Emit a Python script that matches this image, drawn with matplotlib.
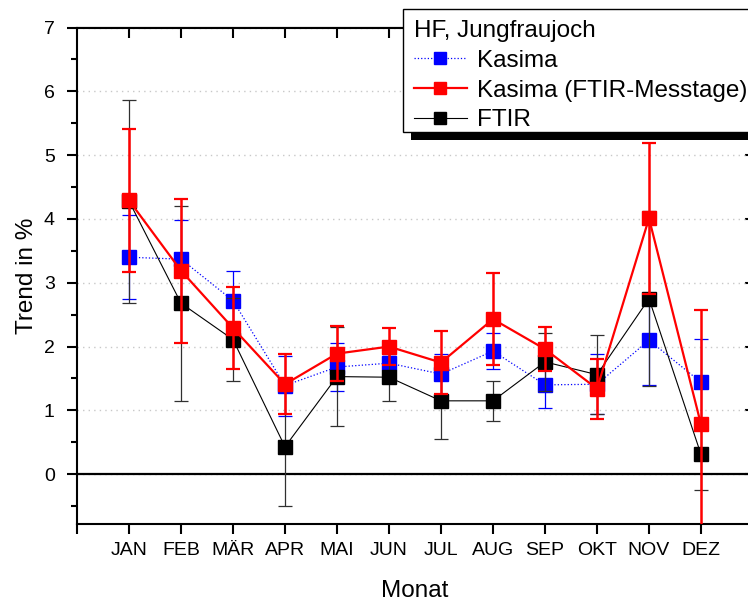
import matplotlib
matplotlib.use("Agg")
import matplotlib.pyplot as plt
from matplotlib.ticker import MultipleLocator
from matplotlib.patches import Rectangle
from matplotlib.lines import Line2D

plt.rcParams['font.family'] = ['Liberation Sans', 'DejaVu Sans']

months = ['JAN', 'FEB', 'MÄR', 'APR', 'MAI', 'JUN', 'JUL', 'AUG', 'SEP', 'OKT', 'NOV', 'DEZ']
kasima = [3.40, 3.37, 2.72, 1.39, 1.68, 1.74, 1.57, 1.93, 1.40, 1.41, 2.10, 1.44]
kasima_err = [0.66, 0.62, 0.46, 0.47, 0.37, 0.15, 0.31, 0.28, 0.36, 0.47, 0.70, 0.68]
kasima_ftir = [4.29, 3.19, 2.29, 1.41, 1.89, 2.00, 1.75, 2.43, 1.96, 1.34, 4.01, 0.78]
kasima_ftir_err = [1.12, 1.13, 0.64, 0.47, 0.43, 0.29, 0.50, 0.72, 0.35, 0.47, 1.18, 1.80]
ftir = [4.28, 2.68, 2.11, 0.43, 1.53, 1.52, 1.15, 1.15, 1.76, 1.56, 2.75, 0.31]
ftir_err = [1.59, 1.53, 0.65, 0.93, 0.78, 0.38, 0.60, 0.31, 0.46, 0.62, 1.37, 0.55]

W, H = 748, 601
fig = plt.figure(figsize=(W / 100, H / 100), dpi=100)
ax = fig.add_axes([77 / W, (H - 524) / H, 676 / W, (524 - 27.5) / H])

x = list(range(1, len(months) + 1))

ax.axhline(0, color='black', lw=1.6, zorder=1.5)

ax.errorbar(x, kasima, yerr=kasima_err, color='blue', ls=':', lw=0.9,
            marker='s', ms=9.5, mfc='blue', mec='blue',
            ecolor='blue', elinewidth=0.9, capsize=5, capthick=0.9,
            zorder=3)
ax.errorbar(x, ftir, yerr=ftir_err, color='black', ls='-', lw=0.8,
            marker='s', ms=9.5, mfc='black', mec='black',
            ecolor='#303030', elinewidth=0.9, capsize=5, capthick=0.9,
            zorder=4)
ax.errorbar(x, kasima_ftir, yerr=kasima_ftir_err, color='red', ls='-', lw=1.6,
            marker='s', ms=9.5, mfc='red', mec='red',
            ecolor='red', elinewidth=1.8, capsize=5, capthick=1.6,
            zorder=5)

ax.set_xlim(0, 13)
ax.set_ylim(-0.78, 7)

ax.set_xticks(range(0, 14))
ax.set_xticklabels([''] + months + [''])
ax.yaxis.set_major_locator(MultipleLocator(1))
ax.yaxis.set_minor_locator(MultipleLocator(0.5))

ax.grid(axis='y', which='major', ls=(0, (1, 3)), color='#c8c8c8', lw=1)
ax.set_axisbelow(True)

for s in ax.spines.values():
    s.set_linewidth(1.5)

ax.tick_params(axis='x', which='major', direction='out', length=7, width=1.5,
               labelsize=14, pad=6, top=False)
ax.tick_params(axis='y', which='major', direction='out', length=7, width=1.5,
               labelsize=14, pad=9)
ax.tick_params(axis='y', which='minor', direction='out', length=4, width=1.5)

axt = ax.secondary_xaxis('top')
axt.set_xticks(range(1, 13))
axt.tick_params(direction='in', length=8, width=1.5, labeltop=False)
axt.set_xticklabels([])
axr = ax.secondary_yaxis('right')
axr.yaxis.set_major_locator(MultipleLocator(1))
axr.yaxis.set_minor_locator(MultipleLocator(0.5))
axr.tick_params(which='major', direction='in', length=6, width=1.5, labelright=False)
axr.tick_params(which='minor', direction='in', length=3, width=1.5)

ax.set_xlabel('Monat', fontsize=17.5, labelpad=15)
ax.set_ylabel('Trend in %', fontsize=17.5, labelpad=4)

h1 = Line2D([], [], color='blue', ls=':', lw=0.9, marker='s', ms=8.5, mfc='blue', mec='blue')
h2 = Line2D([], [], color='red', ls='-', lw=1.6, marker='s', ms=8.5, mfc='red', mec='red')
h3 = Line2D([], [], color='black', ls='-', lw=0.8, marker='s', ms=8.5, mfc='black', mec='black')
leg = fig.legend([h1, h2, h3], ['Kasima', 'Kasima (FTIR-Messtage)', 'FTIR'],
                 title='HF, Jungfraujoch', title_fontsize=17.5, fontsize=17.5,
                 loc='upper left', bbox_to_anchor=(410 / W, (H - 16.3) / H),
                 frameon=False, borderpad=0.15, labelspacing=0.32, handlelength=2.2,
                 handletextpad=0.4, borderaxespad=0)
leg._legend_box.align = 'left'
leg.set_zorder(10)

fig.canvas.draw()
bb = leg.get_window_extent()
box_left = 403
box_bottom = bb.y0 + 3
box_top = H - 9
box_w = W + 20 - box_left
box_h = box_top - box_bottom
frame = Rectangle((box_left, box_bottom), box_w, box_h, facecolor='white',
                  edgecolor='black', lw=1.0, transform=None, zorder=9.5)
shadow = Rectangle((box_left + 8, box_bottom - 8), box_w, box_h,
                   facecolor='black', edgecolor='none', transform=None, zorder=9)
fig.add_artist(shadow)
fig.add_artist(frame)

fig.savefig('out.png', dpi=100)
